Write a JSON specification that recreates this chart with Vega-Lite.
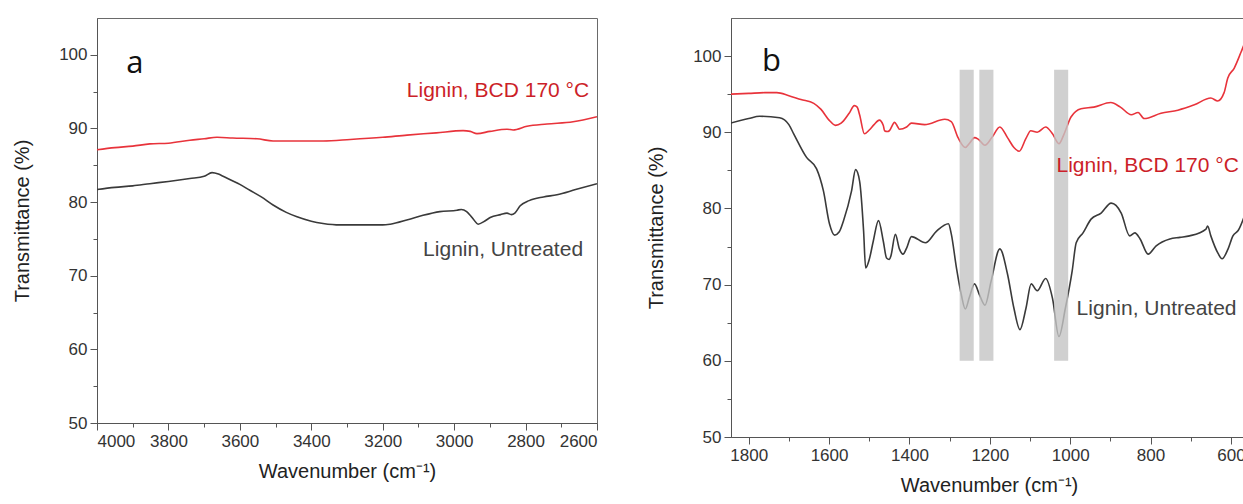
{
  "$schema": "https://vega.github.io/schema/vega-lite/v6.json",
  "background": "white",
  "padding": {"left": 12, "top": 17, "right": 0, "bottom": 0},
  "spacing": 48,
  "datasets": {
    "a": [
      {"wn": 4000, "T": 87.1, "s": "BCD"}, {"wn": 3950, "T": 87.4, "s": "BCD"}, {"wn": 3900, "T": 87.6, "s": "BCD"},
      {"wn": 3852, "T": 87.9, "s": "BCD"}, {"wn": 3800, "T": 88.0, "s": "BCD"}, {"wn": 3740, "T": 88.4, "s": "BCD"},
      {"wn": 3700, "T": 88.6, "s": "BCD"}, {"wn": 3664, "T": 88.8, "s": "BCD"}, {"wn": 3620, "T": 88.7, "s": "BCD"},
      {"wn": 3552, "T": 88.6, "s": "BCD"}, {"wn": 3507, "T": 88.3, "s": "BCD"}, {"wn": 3450, "T": 88.3, "s": "BCD"},
      {"wn": 3367, "T": 88.3, "s": "BCD"}, {"wn": 3291, "T": 88.5, "s": "BCD"}, {"wn": 3200, "T": 88.8, "s": "BCD"},
      {"wn": 3132, "T": 89.1, "s": "BCD"}, {"wn": 3050, "T": 89.4, "s": "BCD"}, {"wn": 2975, "T": 89.7, "s": "BCD"},
      {"wn": 2955, "T": 89.6, "s": "BCD"}, {"wn": 2936, "T": 89.3, "s": "BCD"}, {"wn": 2900, "T": 89.6, "s": "BCD"},
      {"wn": 2852, "T": 89.9, "s": "BCD"}, {"wn": 2835, "T": 89.8, "s": "BCD"}, {"wn": 2796, "T": 90.3, "s": "BCD"},
      {"wn": 2740, "T": 90.6, "s": "BCD"}, {"wn": 2667, "T": 90.9, "s": "BCD"}, {"wn": 2600, "T": 91.6, "s": "BCD"},
      {"wn": 4000, "T": 81.7, "s": "Untreated"}, {"wn": 3950, "T": 82.0, "s": "Untreated"}, {"wn": 3900, "T": 82.2, "s": "Untreated"},
      {"wn": 3852, "T": 82.5, "s": "Untreated"}, {"wn": 3800, "T": 82.8, "s": "Untreated"}, {"wn": 3740, "T": 83.2, "s": "Untreated"},
      {"wn": 3700, "T": 83.5, "s": "Untreated"}, {"wn": 3678, "T": 84.0, "s": "Untreated"}, {"wn": 3660, "T": 83.8, "s": "Untreated"},
      {"wn": 3647, "T": 83.5, "s": "Untreated"}, {"wn": 3600, "T": 82.4, "s": "Untreated"}, {"wn": 3572, "T": 81.6, "s": "Untreated"},
      {"wn": 3540, "T": 80.7, "s": "Untreated"}, {"wn": 3507, "T": 79.6, "s": "Untreated"}, {"wn": 3470, "T": 78.6, "s": "Untreated"},
      {"wn": 3440, "T": 78.0, "s": "Untreated"}, {"wn": 3400, "T": 77.4, "s": "Untreated"}, {"wn": 3367, "T": 77.1, "s": "Untreated"},
      {"wn": 3320, "T": 76.9, "s": "Untreated"}, {"wn": 3250, "T": 76.9, "s": "Untreated"}, {"wn": 3200, "T": 76.9, "s": "Untreated"},
      {"wn": 3179, "T": 77.0, "s": "Untreated"}, {"wn": 3130, "T": 77.6, "s": "Untreated"}, {"wn": 3087, "T": 78.2, "s": "Untreated"},
      {"wn": 3040, "T": 78.7, "s": "Untreated"}, {"wn": 2992, "T": 78.9, "s": "Untreated"}, {"wn": 2980, "T": 79.0, "s": "Untreated"},
      {"wn": 2965, "T": 78.7, "s": "Untreated"}, {"wn": 2955, "T": 78.2, "s": "Untreated"}, {"wn": 2945, "T": 77.6, "s": "Untreated"},
      {"wn": 2933, "T": 77.0, "s": "Untreated"}, {"wn": 2915, "T": 77.4, "s": "Untreated"}, {"wn": 2899, "T": 77.9, "s": "Untreated"},
      {"wn": 2870, "T": 78.3, "s": "Untreated"}, {"wn": 2852, "T": 78.5, "s": "Untreated"}, {"wn": 2840, "T": 78.3, "s": "Untreated"},
      {"wn": 2830, "T": 78.5, "s": "Untreated"}, {"wn": 2815, "T": 79.5, "s": "Untreated"}, {"wn": 2790, "T": 80.2, "s": "Untreated"},
      {"wn": 2750, "T": 80.7, "s": "Untreated"}, {"wn": 2712, "T": 81.0, "s": "Untreated"}, {"wn": 2660, "T": 81.7, "s": "Untreated"},
      {"wn": 2600, "T": 82.5, "s": "Untreated"}
    ],
    "b": [
      {"wn": 1845, "T": 95.0, "s": "BCD"}, {"wn": 1800, "T": 95.1, "s": "BCD"}, {"wn": 1760, "T": 95.2, "s": "BCD"},
      {"wn": 1730, "T": 95.2, "s": "BCD"}, {"wn": 1700, "T": 94.8, "s": "BCD"}, {"wn": 1670, "T": 94.3, "s": "BCD"},
      {"wn": 1638, "T": 93.8, "s": "BCD"}, {"wn": 1620, "T": 93.0, "s": "BCD"}, {"wn": 1600, "T": 91.6, "s": "BCD"},
      {"wn": 1584, "T": 90.9, "s": "BCD"}, {"wn": 1570, "T": 91.2, "s": "BCD"}, {"wn": 1564, "T": 91.5, "s": "BCD"},
      {"wn": 1550, "T": 92.5, "s": "BCD"}, {"wn": 1537, "T": 93.5, "s": "BCD"}, {"wn": 1530, "T": 93.3, "s": "BCD"},
      {"wn": 1524, "T": 92.3, "s": "BCD"}, {"wn": 1512, "T": 89.8, "s": "BCD"}, {"wn": 1500, "T": 90.3, "s": "BCD"},
      {"wn": 1488, "T": 91.0, "s": "BCD"}, {"wn": 1475, "T": 91.6, "s": "BCD"}, {"wn": 1465, "T": 90.9, "s": "BCD"},
      {"wn": 1462, "T": 90.2, "s": "BCD"}, {"wn": 1455, "T": 90.1, "s": "BCD"}, {"wn": 1450, "T": 90.2, "s": "BCD"},
      {"wn": 1437, "T": 91.3, "s": "BCD"}, {"wn": 1430, "T": 90.8, "s": "BCD"}, {"wn": 1425, "T": 90.4, "s": "BCD"},
      {"wn": 1407, "T": 90.7, "s": "BCD"}, {"wn": 1395, "T": 91.2, "s": "BCD"}, {"wn": 1362, "T": 91.0, "s": "BCD"},
      {"wn": 1312, "T": 91.7, "s": "BCD"}, {"wn": 1296, "T": 91.4, "s": "BCD"}, {"wn": 1279, "T": 89.3, "s": "BCD"},
      {"wn": 1261, "T": 88.0, "s": "BCD"}, {"wn": 1250, "T": 88.6, "s": "BCD"}, {"wn": 1238, "T": 89.3, "s": "BCD"},
      {"wn": 1229, "T": 89.1, "s": "BCD"}, {"wn": 1212, "T": 88.3, "s": "BCD"}, {"wn": 1195, "T": 89.3, "s": "BCD"},
      {"wn": 1175, "T": 90.7, "s": "BCD"}, {"wn": 1156, "T": 89.3, "s": "BCD"}, {"wn": 1140, "T": 88.0, "s": "BCD"},
      {"wn": 1127, "T": 87.5, "s": "BCD"}, {"wn": 1110, "T": 89.2, "s": "BCD"}, {"wn": 1098, "T": 90.2, "s": "BCD"},
      {"wn": 1082, "T": 90.0, "s": "BCD"}, {"wn": 1061, "T": 90.7, "s": "BCD"}, {"wn": 1044, "T": 89.8, "s": "BCD"},
      {"wn": 1028, "T": 88.5, "s": "BCD"}, {"wn": 1015, "T": 89.8, "s": "BCD"}, {"wn": 998, "T": 92.0, "s": "BCD"},
      {"wn": 973, "T": 93.1, "s": "BCD"}, {"wn": 941, "T": 93.3, "s": "BCD"}, {"wn": 899, "T": 93.9, "s": "BCD"},
      {"wn": 875, "T": 93.3, "s": "BCD"}, {"wn": 848, "T": 92.3, "s": "BCD"}, {"wn": 831, "T": 92.6, "s": "BCD"},
      {"wn": 816, "T": 91.8, "s": "BCD"}, {"wn": 774, "T": 92.5, "s": "BCD"}, {"wn": 732, "T": 92.9, "s": "BCD"},
      {"wn": 691, "T": 93.6, "s": "BCD"}, {"wn": 650, "T": 94.5, "s": "BCD"}, {"wn": 633, "T": 94.1, "s": "BCD"},
      {"wn": 617, "T": 95.2, "s": "BCD"}, {"wn": 608, "T": 97.1, "s": "BCD"}, {"wn": 592, "T": 98.4, "s": "BCD"},
      {"wn": 575, "T": 100.5, "s": "BCD"}, {"wn": 560, "T": 102.5, "s": "BCD"},
      {"wn": 1845, "T": 91.2, "s": "Untreated"}, {"wn": 1800, "T": 91.8, "s": "Untreated"}, {"wn": 1773, "T": 92.1, "s": "Untreated"},
      {"wn": 1723, "T": 91.9, "s": "Untreated"}, {"wn": 1700, "T": 91.0, "s": "Untreated"}, {"wn": 1688, "T": 89.8, "s": "Untreated"},
      {"wn": 1656, "T": 86.7, "s": "Untreated"}, {"wn": 1631, "T": 85.2, "s": "Untreated"}, {"wn": 1614, "T": 82.3, "s": "Untreated"},
      {"wn": 1599, "T": 78.0, "s": "Untreated"}, {"wn": 1586, "T": 76.5, "s": "Untreated"}, {"wn": 1575, "T": 76.9, "s": "Untreated"},
      {"wn": 1564, "T": 78.4, "s": "Untreated"}, {"wn": 1544, "T": 82.3, "s": "Untreated"}, {"wn": 1534, "T": 85.1, "s": "Untreated"},
      {"wn": 1524, "T": 83.6, "s": "Untreated"}, {"wn": 1514, "T": 77.0, "s": "Untreated"}, {"wn": 1509, "T": 72.2, "s": "Untreated"},
      {"wn": 1500, "T": 73.3, "s": "Untreated"}, {"wn": 1490, "T": 75.7, "s": "Untreated"}, {"wn": 1477, "T": 78.4, "s": "Untreated"},
      {"wn": 1465, "T": 75.7, "s": "Untreated"}, {"wn": 1457, "T": 73.5, "s": "Untreated"}, {"wn": 1450, "T": 73.3, "s": "Untreated"},
      {"wn": 1446, "T": 73.8, "s": "Untreated"}, {"wn": 1435, "T": 76.6, "s": "Untreated"}, {"wn": 1425, "T": 74.7, "s": "Untreated"},
      {"wn": 1416, "T": 74.0, "s": "Untreated"}, {"wn": 1407, "T": 74.8, "s": "Untreated"}, {"wn": 1395, "T": 76.3, "s": "Untreated"},
      {"wn": 1360, "T": 75.5, "s": "Untreated"}, {"wn": 1333, "T": 77.0, "s": "Untreated"}, {"wn": 1303, "T": 78.0, "s": "Untreated"},
      {"wn": 1296, "T": 76.7, "s": "Untreated"}, {"wn": 1283, "T": 72.2, "s": "Untreated"}, {"wn": 1271, "T": 68.7, "s": "Untreated"},
      {"wn": 1261, "T": 66.8, "s": "Untreated"}, {"wn": 1251, "T": 68.3, "s": "Untreated"}, {"wn": 1238, "T": 70.1, "s": "Untreated"},
      {"wn": 1226, "T": 68.7, "s": "Untreated"}, {"wn": 1212, "T": 67.3, "s": "Untreated"}, {"wn": 1197, "T": 70.4, "s": "Untreated"},
      {"wn": 1175, "T": 74.7, "s": "Untreated"}, {"wn": 1156, "T": 71.4, "s": "Untreated"}, {"wn": 1140, "T": 66.9, "s": "Untreated"},
      {"wn": 1125, "T": 64.1, "s": "Untreated"}, {"wn": 1110, "T": 66.9, "s": "Untreated"}, {"wn": 1097, "T": 70.1, "s": "Untreated"},
      {"wn": 1082, "T": 69.2, "s": "Untreated"}, {"wn": 1061, "T": 70.8, "s": "Untreated"}, {"wn": 1044, "T": 68.2, "s": "Untreated"},
      {"wn": 1028, "T": 63.2, "s": "Untreated"}, {"wn": 1012, "T": 66.9, "s": "Untreated"}, {"wn": 995, "T": 71.8, "s": "Untreated"},
      {"wn": 985, "T": 75.5, "s": "Untreated"}, {"wn": 968, "T": 76.8, "s": "Untreated"}, {"wn": 948, "T": 78.6, "s": "Untreated"},
      {"wn": 923, "T": 79.4, "s": "Untreated"}, {"wn": 898, "T": 80.7, "s": "Untreated"}, {"wn": 873, "T": 79.4, "s": "Untreated"},
      {"wn": 852, "T": 76.4, "s": "Untreated"}, {"wn": 839, "T": 76.8, "s": "Untreated"}, {"wn": 826, "T": 76.0, "s": "Untreated"},
      {"wn": 806, "T": 74.0, "s": "Untreated"}, {"wn": 786, "T": 75.1, "s": "Untreated"}, {"wn": 752, "T": 76.0, "s": "Untreated"},
      {"wn": 727, "T": 76.2, "s": "Untreated"}, {"wn": 703, "T": 76.4, "s": "Untreated"}, {"wn": 662, "T": 77.3, "s": "Untreated"},
      {"wn": 658, "T": 77.7, "s": "Untreated"}, {"wn": 650, "T": 76.4, "s": "Untreated"}, {"wn": 632, "T": 74.1, "s": "Untreated"},
      {"wn": 622, "T": 73.4, "s": "Untreated"}, {"wn": 607, "T": 74.7, "s": "Untreated"}, {"wn": 595, "T": 76.4, "s": "Untreated"},
      {"wn": 582, "T": 77.1, "s": "Untreated"}, {"wn": 560, "T": 80.0, "s": "Untreated"}
    ],
    "bands": [
      {"from": 1275, "to": 1240, "low": 60, "high": 98.2},
      {"from": 1226, "to": 1191, "low": 60, "high": 98.2},
      {"from": 1040, "to": 1005, "low": 60, "high": 98.2}
    ],
    "labels": [
      {"panel": "a", "s": "BCD", "wn": 2622, "T": 95.1, "text": "Lignin, BCD 170 °C"},
      {"panel": "a", "s": "Untreated", "wn": 2639, "T": 73.5, "text": "Lignin, Untreated"},
      {"panel": "b", "s": "BCD", "wn": 1034, "T": 85.6, "text": "Lignin, BCD 170 °C"},
      {"panel": "b", "s": "Untreated", "wn": 984, "T": 66.8, "text": "Lignin, Untreated"}
    ],
    "letters": [
      {"panel": "a", "wn": 3894, "T": 98.8, "text": "a"},
      {"panel": "b", "wn": 1743, "T": 99.2, "text": "b"}
    ]
  },
  "hconcat": [
    {
      "width": 500,
      "height": 405,
      "resolve": {"axis": {"x": "independent", "y": "independent"}},
      "layer": [
        {
          "data": {"name": "a"},
          "mark": {"type": "line", "strokeWidth": 1.6, "clip": true, "interpolate": "monotone"},
          "encoding": {
            "x": {"field": "wn", "type": "quantitative", "scale": {"domain": [2600, 4000], "reverse": true, "nice": false, "zero": false},
                  "axis": {"orient": "bottom", "values": [4000, 3800, 3600, 3400, 3200, 3000, 2800, 2600], "format": "d", "title": "Wavenumber (cm⁻¹)", "titlePadding": 12}},
            "y": {"field": "T", "type": "quantitative", "scale": {"domain": [50, 105], "nice": false, "zero": false},
                  "axis": {"orient": "left", "values": [50, 60, 70, 80, 90, 100], "format": "d", "title": "Transmittance (%)", "titlePadding": 26}},
            "color": {"field": "s", "type": "nominal", "scale": {"domain": ["BCD", "Untreated"], "range": ["#e8333b", "#3a3a3a"]}, "legend": null},
            "order": {"field": "wn", "type": "quantitative", "sort": "descending"}
          }
        },
        {
          "data": {"name": "a"},
          "mark": {"type": "line", "opacity": 0},
          "encoding": {
            "x": {"field": "wn", "type": "quantitative",
                  "axis": {"orient": "bottom", "values": [3900, 3700, 3500, 3300, 3100, 2900, 2700], "labels": false, "domain": false, "tickSize": 4, "title": null}},
            "y": {"field": "T", "type": "quantitative",
                  "axis": {"orient": "left", "values": [55, 65, 75, 85, 95], "labels": false, "domain": false, "tickSize": 4, "title": null}},
            "detail": {"field": "s"}
          }
        },
        {
          "data": {"name": "labels"},
          "transform": [{"filter": "datum.panel === 'a'"}],
          "mark": {"type": "text", "align": "right", "baseline": "middle", "font": "Liberation Sans", "fontSize": 21},
          "encoding": {
            "x": {"field": "wn", "type": "quantitative", "axis": null},
            "y": {"field": "T", "type": "quantitative", "axis": null},
            "text": {"field": "text"},
            "color": {"condition": {"test": "datum.s === 'BCD'", "value": "#cc1f29"}, "value": "#444444"}
          }
        },
        {
          "data": {"name": "letters"},
          "transform": [{"filter": "datum.panel === 'a'"}],
          "mark": {"type": "text", "align": "center", "baseline": "middle", "font": "Open Sans", "fontSize": 31, "color": "#111111"},
          "encoding": {
            "x": {"field": "wn", "type": "quantitative", "axis": null},
            "y": {"field": "T", "type": "quantitative", "axis": null},
            "text": {"field": "text"}
          }
        }
      ]
    },
    {
      "width": 516,
      "height": 419,
      "resolve": {"axis": {"x": "independent", "y": "independent"}},
      "layer": [
        {
          "data": {"name": "b"},
          "mark": {"type": "line", "strokeWidth": 1.6, "clip": true, "interpolate": "monotone"},
          "encoding": {
            "x": {"field": "wn", "type": "quantitative", "scale": {"domain": [560, 1844], "reverse": true, "nice": false, "zero": false},
                  "axis": {"orient": "bottom", "values": [1800, 1600, 1400, 1200, 1000, 800, 600], "format": "d", "title": "Wavenumber (cm⁻¹)", "titlePadding": 12}},
            "y": {"field": "T", "type": "quantitative", "scale": {"domain": [50, 105], "nice": false, "zero": false},
                  "axis": {"orient": "left", "values": [50, 60, 70, 80, 90, 100], "format": "d", "title": "Transmittance (%)", "titlePadding": 26}},
            "color": {"field": "s", "type": "nominal", "scale": {"domain": ["BCD", "Untreated"], "range": ["#e8333b", "#3a3a3a"]}, "legend": null},
            "order": {"field": "wn", "type": "quantitative", "sort": "descending"}
          }
        },
        {
          "data": {"name": "b"},
          "mark": {"type": "line", "opacity": 0},
          "encoding": {
            "x": {"field": "wn", "type": "quantitative",
                  "axis": {"orient": "bottom", "values": [1700, 1500, 1300, 1100, 900, 700], "labels": false, "domain": false, "tickSize": 4, "title": null}},
            "y": {"field": "T", "type": "quantitative",
                  "axis": {"orient": "left", "values": [55, 65, 75, 85, 95], "labels": false, "domain": false, "tickSize": 4, "title": null}},
            "detail": {"field": "s"}
          }
        },
        {
          "data": {"name": "bands"},
          "mark": {"type": "rect", "color": "#c4c4c4", "opacity": 0.8},
          "encoding": {
            "x": {"field": "from", "type": "quantitative", "axis": null},
            "x2": {"field": "to"},
            "y": {"field": "low", "type": "quantitative", "axis": null},
            "y2": {"field": "high"}
          }
        },
        {
          "data": {"name": "labels"},
          "transform": [{"filter": "datum.panel === 'b'"}],
          "mark": {"type": "text", "align": "left", "baseline": "middle", "font": "Liberation Sans", "fontSize": 21},
          "encoding": {
            "x": {"field": "wn", "type": "quantitative", "axis": null},
            "y": {"field": "T", "type": "quantitative", "axis": null},
            "text": {"field": "text"},
            "color": {"condition": {"test": "datum.s === 'BCD'", "value": "#cc1f29"}, "value": "#444444"}
          }
        },
        {
          "data": {"name": "letters"},
          "transform": [{"filter": "datum.panel === 'b'"}],
          "mark": {"type": "text", "align": "center", "baseline": "middle", "font": "Open Sans", "fontSize": 31, "color": "#111111"},
          "encoding": {
            "x": {"field": "wn", "type": "quantitative", "axis": null},
            "y": {"field": "T", "type": "quantitative", "axis": null},
            "text": {"field": "text"}
          }
        }
      ]
    }
  ],
  "config": {
    "view": {"stroke": "#6a6a6a", "strokeWidth": 1},
    "axis": {
      "grid": false,
      "domainColor": "#555555",
      "tickColor": "#555555",
      "tickSize": 7,
      "labelPadding": 3,
      "labelColor": "#333333",
      "titleColor": "#222222",
      "labelFont": "Liberation Sans",
      "titleFont": "Liberation Sans",
      "labelFontSize": 17,
      "titleFontSize": 20,
      "titleFontWeight": "normal"
    }
  }
}
